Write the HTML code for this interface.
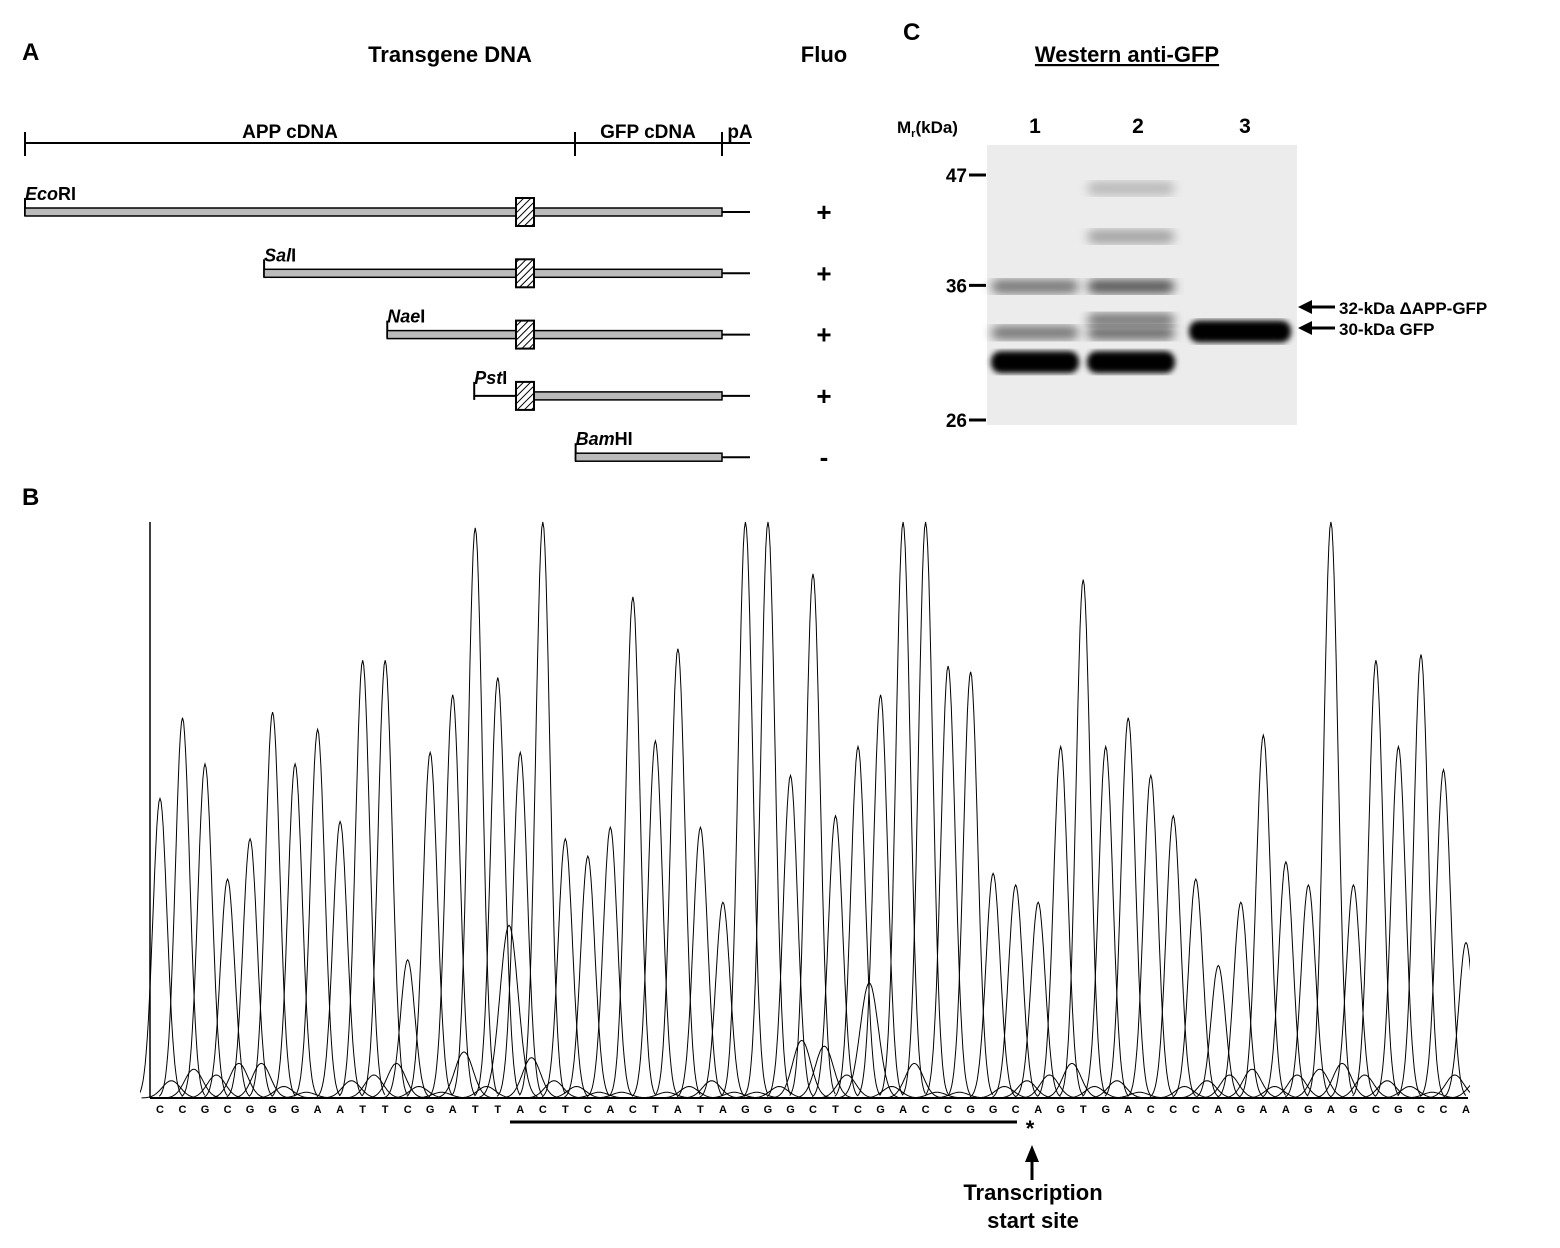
<!DOCTYPE html>
<html><head><meta charset="utf-8"><style>
body{margin:0;background:#fff;width:1560px;height:1248px;overflow:hidden;font-family:"Liberation Sans",sans-serif}
svg{position:absolute;left:0;top:0}
text{font-family:"Liberation Sans",sans-serif;font-weight:bold}
</style></head><body>
<svg width="1560" height="1248">
<defs>
<pattern id="hatch" width="5" height="5" patternUnits="userSpaceOnUse" patternTransform="rotate(45)"><rect width="5" height="5" fill="#fff"/><line x1="0" y1="0" x2="0" y2="5" stroke="#000" stroke-width="2"/></pattern>
<filter id="blur"><feGaussianBlur stdDeviation="3"/></filter>
<filter id="blur2"><feGaussianBlur stdDeviation="5"/></filter>
<clipPath id="plotclip"><rect x="140" y="500" width="1330" height="620"/></clipPath>
</defs>
<g>
<text x="22" y="60" font-size="24">A</text>
<text x="450" y="62" font-size="22" text-anchor="middle">Transgene DNA</text>
<text x="824" y="62" font-size="22" text-anchor="middle">Fluo</text>
<g stroke="#000" stroke-width="2">
<line x1="25" y1="143" x2="750" y2="143"/><line x1="25" y1="132" x2="25" y2="156"/><line x1="575" y1="132" x2="575" y2="156"/><line x1="722" y1="132" x2="722" y2="156"/>
</g>
<text x="290" y="138" font-size="19" text-anchor="middle">APP cDNA</text>
<text x="648" y="138" font-size="19" text-anchor="middle">GFP cDNA</text>
<text x="740" y="138" font-size="19" text-anchor="middle">pA</text>
<g id="constructs"></g>
</g>
<g>
<text x="903" y="40" font-size="24">C</text>
<text x="1127" y="62" font-size="22" text-anchor="middle" text-decoration="underline">Western anti-GFP</text>
<text x="897" y="133" font-size="17">M<tspan font-size="11" dy="4">r</tspan><tspan dy="-4">(kDa)</tspan></text>
<text x="1035" y="133" font-size="21" font-weight="normal" text-anchor="middle">1</text>
<text x="1138" y="133" font-size="21" font-weight="normal" text-anchor="middle">2</text>
<text x="1245" y="133" font-size="21" font-weight="normal" text-anchor="middle">3</text>
<rect x="987" y="145" width="310" height="280" fill="#ececec"/>
<g id="bands"></g>
<g id="mwticks"></g>
<g><line x1="1310" y1="307" x2="1335" y2="307" stroke="#000" stroke-width="3"/><polygon points="1298,307 1312,300 1312,314"/></g>
<text x="1339" y="314" font-size="17">32-kDa ΔAPP-GFP</text>
<g><line x1="1310" y1="328" x2="1335" y2="328" stroke="#000" stroke-width="3"/><polygon points="1298,328 1312,321 1312,335"/></g>
<text x="1339" y="335" font-size="17">30-kDa GFP</text>
</g>
<g>
<text x="22" y="505" font-size="24">B</text>
<g id="chrom"></g>
<line x1="510" y1="1122" x2="1017" y2="1122" stroke="#000" stroke-width="3"/>
<text x="1030" y="1136" font-size="22" text-anchor="middle">*</text>
<g><line x1="1032" y1="1160" x2="1032" y2="1180" stroke="#000" stroke-width="3"/><polygon points="1032,1145 1025,1162 1039,1162"/></g>
<text x="1033" y="1200" font-size="22" font-weight="normal" text-anchor="middle">Transcription</text>
<text x="1033" y="1228" font-size="22" font-weight="normal" text-anchor="middle">start site</text>
</g>
</svg>
<script>
const NS='http://www.w3.org/2000/svg';
function mk(t,a,p){const e=document.createElementNS(NS,t);for(const k in a)e.setAttribute(k,a[k]);p.appendChild(e);return e;}
// Panel A constructs
const constructNames=['EcoRI','SalI','NaeI','PstI','BamHI'];
const constructStartKb=[0,0.33,0.5,0.62,0.76];
const constructFluo=['+','+','+','+','-'];
const kx=v=>25+v*(722-25)/0.962;
const cg=document.getElementById('constructs');
constructNames.forEach((n,i)=>{
 const y=212+i*61.3, x0=kx(constructStartKb[i]);
 const g=mk('g',{},cg);
 
 
 mk('line',{x1:x0,y1:y-14,x2:x0,y2:y+4,stroke:'#000','stroke-width':2},g);
 if(n==='PstI'){mk('line',{x1:x0,y1:y,x2:516,y2:y,stroke:'#000','stroke-width':2},g);mk('rect',{x:534,y:y-4,width:188,height:8,fill:'#bbb',stroke:'#000','stroke-width':1.5},g);}
 else mk('rect',{x:x0,y:y-4,width:722-x0,height:8,fill:'#bbb',stroke:'#000','stroke-width':1.5},g);
 mk('line',{x1:722,y1:y,x2:750,y2:y,stroke:'#000','stroke-width':2},g);
 if(x0<516)mk('rect',{x:516,y:y-14,width:18,height:28,fill:'url(#hatch)',stroke:'#000','stroke-width':2},g);
 const m=n.match(/^([A-Z][a-z]+)(.*)$/);
 const t=mk('text',{x:x0,y:y-12,'font-size':18},g);
 t.innerHTML='<tspan font-style="italic">'+m[1]+'</tspan>'+m[2];
 const f=mk('text',{x:824,y:y+9,'font-size':26,'text-anchor':'middle'},g);f.textContent=constructFluo[i];
});
// Panel C gel
const laneCenters=[1035,1131,1240];
const bandKda=[[29.9,32.1,35.9],[29.9,32.1,33.1,35.9,40.5,45.5],[32.2]];
const bandIntensity=[[1,0.5,0.5],[1,0.55,0.5,0.65,0.3,0.2],[1]];
const mwLabels=[47,36,26];
const ky=k=>{const l=Math.log(k),a=Math.log(47),b=Math.log(26);return 175+(a-l)/(a-b)*(420-175);};
const bg=document.getElementById('bands');
bandKda.forEach((arr,li)=>arr.forEach((k,bi)=>{
 const v=bandIntensity[li][bi],w=li==2?102:88;
 const h=v>0.9?22:14;
 const c=Math.round(230-225*v);
 const e=mk('rect',{x:laneCenters[li]-w/2,y:ky(k)-h/2,width:w,height:h,rx:10,fill:'rgb('+c+','+c+','+c+')',filter:v>0.9?'url(#blur)':'url(#blur2)'},bg);
 
 
}));
const mg=document.getElementById('mwticks');
mwLabels.forEach(k=>{
 const t=mk('text',{x:967,y:ky(k)+7,'font-size':19,'font-weight':'normal','text-anchor':'end'},mg);t.textContent=k;
 
 
 mk('line',{x1:969,y1:ky(k),x2:986,y2:ky(k),stroke:'#000','stroke-width':3},mg);
});
// Panel B chromatogram
const bases='CCGCGGGAATTCGATTACTCACTATAGGGCTCGACCGGCAGTGACCCAGAAGAGCGCCA'.split('');
const peakSignal=[52,66,58,38,45,67,58,64,48,76,76,24,60,70,99,73,60,100,45,42,47,87,62,78,47,34,100,100,56,91,49,61,70,100,100,75,74,39,37,34,61,90,61,66,56,49,38,23,34,63,41,37,100,37,76,61,77,57,27];
const bgSignal=[3,5,4,6,6,2,1,0,3,4,6,2,1,8,2,30,7,3,2,1,1,0,1,2,3,1,1,2,10,9,4,20,2,6,1,1,0,2,3,4,6,2,3,1,0,2,3,4,5,2,4,5,6,4,3,2,1,4,3];
const X0=160,X1=1466,BASE=1098,TOP=522;
const bx=i=>X0+i*(X1-X0)/(bases.length-1);
const sy=v=>BASE-Math.min(v,100)*(BASE-TOP)/100;
const ch=document.getElementById('chrom');
mk('line',{x1:150,y1:TOP,x2:150,y2:BASE,stroke:'#000','stroke-width':1.5},ch);
mk('line',{x1:150,y1:BASE,x2:1468,y2:BASE,stroke:'#000','stroke-width':2},ch);
const pg=mk('g',{'clip-path':'url(#plotclip)'},ch);
const sp=(X1-X0)/(bases.length-1);
function peakPath(c,v,w){let d='';for(let t=-2.2;t<=2.2;t+=0.1){const x=c+t*w,y=sy(v*Math.exp(-t*t/0.9));d+=(d?'L':'M')+x.toFixed(1)+','+y.toFixed(1);}return d;}
bases.forEach((b,i)=>{
 const p=mk('path',{d:peakPath(bx(i),peakSignal[i],sp*0.47),fill:'none',stroke:'#000','stroke-width':1},pg);
 
 
 const q=mk('path',{d:peakPath(bx(i)+sp*0.5,bgSignal[i],sp*0.6),fill:'none',stroke:'#000','stroke-width':1},pg);
 
 
 const t=mk('text',{x:bx(i),y:1113,'font-size':11,'text-anchor':'middle'},ch);t.textContent=b;
 
 
});
</script>
</body></html>
